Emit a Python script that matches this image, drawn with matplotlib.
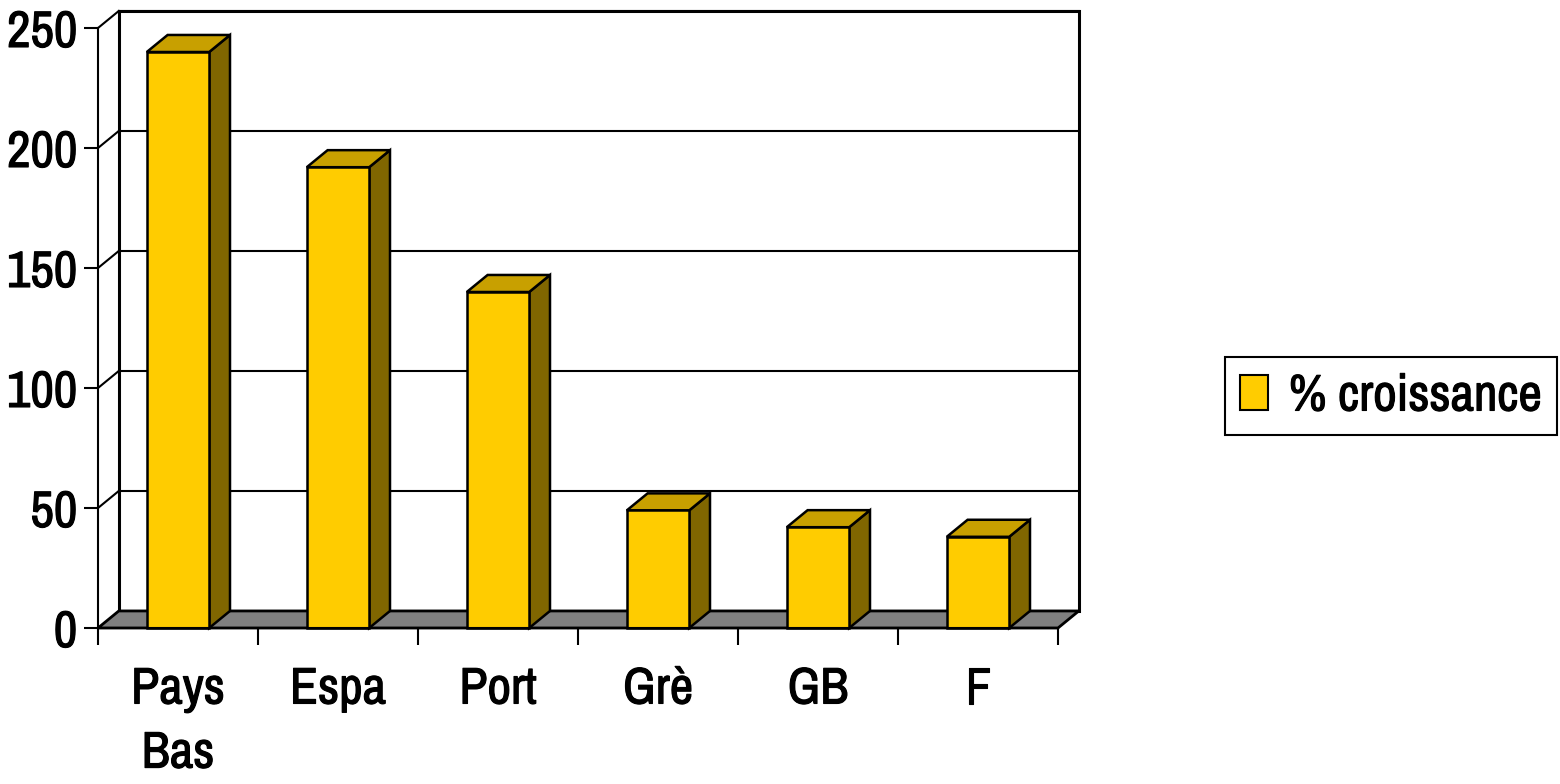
import matplotlib
matplotlib.use('Agg')
import matplotlib.pyplot as plt
import matplotlib.patheffects as pe
from matplotlib.patches import Polygon, Rectangle, Patch

plt.rcParams['font.family'] = ['Archivo Narrow', 'DejaVu Sans']

categories = ['Pays\nBas', 'Espa', 'Port', 'Grè', 'GB', 'F']
values = [240, 192, 140, 49, 42, 38]
yticks = [0, 50, 100, 150, 200, 250]
series_name = '% croissance'

FRONT = '#FFCC00'
TOP = '#C8A000'
SIDE = '#806600'
FLOOR = '#808080'

# depth offset of the 3D box (category units, value units)
dx, dy = 0.13, 7.1
bar_w = 0.39
heavy = [pe.withStroke(linewidth=0.8, foreground='black')]

fig = plt.figure(figsize=(15.6, 7.84), dpi=100)
ax = fig.add_axes([98 / 1560, 156 / 784, 960 / 1560, 600 / 784])
ax.set_xlim(0, len(categories))
ax.set_ylim(0, 250)
n = len(categories)

# back wall
ax.add_patch(Polygon([(dx, dy), (n + dx, dy), (n + dx, 250 + dy), (dx, 250 + dy)],
                     closed=True, facecolor='white', edgecolor='black', lw=2.2,
                     clip_on=False, zorder=1))
for t in yticks[1:]:
    ax.plot([dx, n + dx], [t + dy, t + dy], color='black', lw=1.5, clip_on=False, zorder=1.5)
    ax.plot([0, dx], [t, t + dy], color='black', lw=1.5, clip_on=False, zorder=1.5)

# floor
ax.add_patch(Polygon([(0, 0), (n, 0), (n + dx, dy), (dx, dy)], closed=True,
                     facecolor=FLOOR, edgecolor='black', lw=2, clip_on=False, zorder=2))

# bars
for i, v in enumerate(values):
    x0 = i + 0.5 - bar_w / 2
    x1 = x0 + bar_w
    ax.add_patch(Polygon([(x1, 0), (x1 + dx, dy), (x1 + dx, v + dy), (x1, v)], closed=True,
                         facecolor=SIDE, edgecolor='black', lw=1.8, clip_on=False, zorder=3))
    ax.add_patch(Polygon([(x0, v), (x1, v), (x1 + dx, v + dy), (x0 + dx, v + dy)], closed=True,
                         facecolor=TOP, edgecolor='black', lw=1.8, clip_on=False, zorder=3))
    ax.add_patch(Rectangle((x0, 0), bar_w, v, facecolor=FRONT, edgecolor='black',
                           lw=1.8, clip_on=False, zorder=4))

ax.set_facecolor('none')
for s in ['top', 'right']:
    ax.spines[s].set_visible(False)
ax.spines['left'].set_linewidth(1.5)
ax.spines['bottom'].set_linewidth(1.5)
ax.spines['left'].set_zorder(5)
ax.spines['bottom'].set_zorder(5)

ax.set_yticks(yticks)
ax.set_yticklabels([str(t) for t in yticks])
ax.set_xticks(range(n + 1))
ax.set_xticklabels([])
ax.set_xticks([i + 0.5 for i in range(n)], minor=True)
ax.set_xticklabels(categories, minor=True)
ax.tick_params(axis='y', which='major', length=10, width=1.5, labelsize=37, pad=5)
ax.tick_params(axis='x', which='major', length=12, width=1.5)
ax.tick_params(axis='x', which='minor', length=0, labelsize=37, pad=27)
for lab in ax.get_xticklabels(minor=True):
    lab.set_verticalalignment('top')
    lab.set_linespacing(1.45)
    lab.set_path_effects(heavy)
for lab in ax.get_yticklabels():
    lab.set_path_effects(heavy)

handle = Patch(facecolor=FRONT, edgecolor='black', lw=1.5)
leg = fig.legend([handle], [series_name], loc='center', bbox_to_anchor=(1391 / 1560, 1 - 396 / 784),
                 fontsize=37, frameon=True, fancybox=False, framealpha=1, handlelength=0.55,
                 handleheight=0.7, handletextpad=0.4, borderpad=0.3, borderaxespad=0)
leg.get_frame().set_edgecolor('black')
leg.get_frame().set_linewidth(1.5)
for t in leg.get_texts():
    t.set_path_effects(heavy)

fig.savefig('out.png', dpi=100)
